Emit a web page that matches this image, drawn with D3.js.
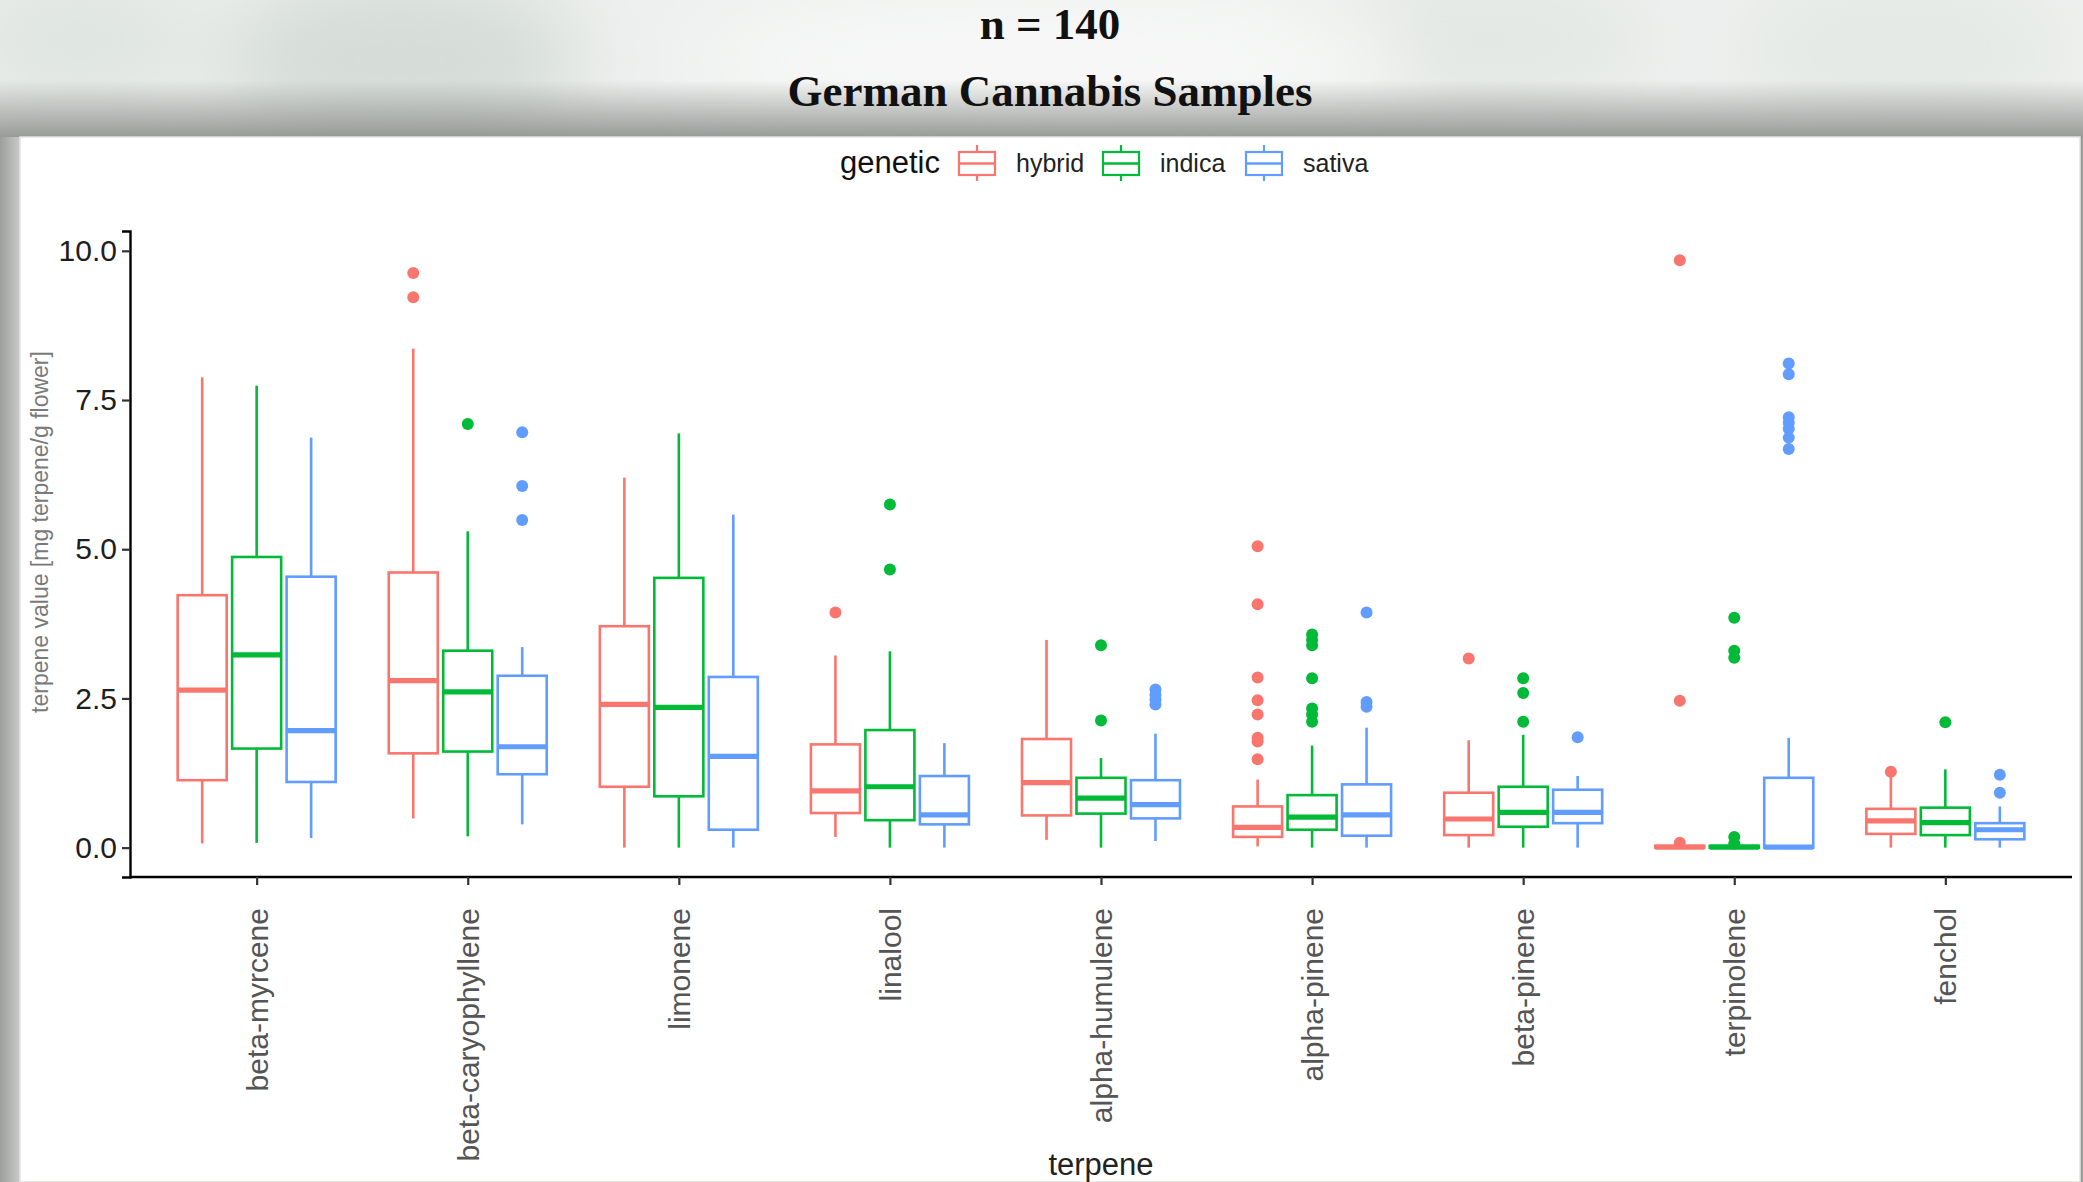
<!DOCTYPE html>
<html>
<head>
<meta charset="utf-8">
<script src="https://cdn.jsdelivr.net/npm/d3@7"></script>
<style>
  html, body { margin: 0; padding: 0; overflow: hidden; background: #edf0ee; }
  svg { display: block; }
</style>
</head>
<body>
<div id="chart"></div>
<script>
// ---- data ----
const terpenes = ['beta-myrcene', 'beta-caryophyllene', 'limonene', 'linalool', 'alpha-humulene',
                  'alpha-pinene', 'beta-pinene', 'terpinolene', 'fenchol'];
const genetics = ['hybrid', 'indica', 'sativa'];
const geneticColors = ['#F8766D', '#00BA38', '#619CFF'];

// [lower whisker, q1, median, q3, upper whisker] per terpene
const hybridBoxes = [
  [0.07, 1.13, 2.64, 4.23, 7.88],
  [0.49, 1.58, 2.80, 4.61, 8.36],
  [0.00, 1.02, 2.40, 3.71, 6.20],
  [0.18, 0.58, 0.95, 1.73, 3.22],
  [0.13, 0.54, 1.09, 1.82, 3.48],
  [0.02, 0.18, 0.34, 0.69, 1.14],
  [0.00, 0.21, 0.48, 0.92, 1.80],
  [0.00, 0.00, 0.01, 0.03, 0.05],
  [0.00, 0.23, 0.45, 0.65, 1.20]
];
const hybridOutliers = [
  [], [9.63, 9.22], [], [3.94], [],
  [5.05, 4.08, 2.85, 2.47, 2.23, 1.84, 1.78, 1.48],
  [3.17], [9.84, 2.46, 0.08], [1.27]
];

const indicaBoxes = [
  [0.08, 1.66, 3.23, 4.87, 7.74],
  [0.19, 1.61, 2.61, 3.30, 5.30],
  [0.00, 0.86, 2.35, 4.52, 6.94],
  [0.00, 0.46, 1.02, 1.97, 3.29],
  [0.00, 0.57, 0.83, 1.17, 1.50],
  [0.00, 0.30, 0.51, 0.88, 1.71],
  [0.00, 0.35, 0.59, 1.02, 1.89],
  [0.00, 0.00, 0.01, 0.03, 0.05],
  [0.00, 0.21, 0.42, 0.67, 1.31]
];
const indicaOutliers = [
  [], [7.10], [], [5.75, 4.66], [3.39, 2.13],
  [3.57, 3.48, 3.39, 2.84, 2.33, 2.23, 2.11],
  [2.84, 2.59, 2.11], [3.85, 3.30, 3.18, 0.18, 0.07], [2.10]
];

const sativaBoxes = [
  [0.16, 1.10, 1.96, 4.54, 6.87],
  [0.39, 1.23, 1.69, 2.88, 3.36],
  [0.00, 0.30, 1.53, 2.86, 5.58],
  [0.00, 0.39, 0.55, 1.20, 1.75],
  [0.11, 0.49, 0.72, 1.13, 1.91],
  [0.00, 0.20, 0.55, 1.06, 2.01],
  [0.00, 0.41, 0.59, 0.97, 1.20],
  [0.00, 0.00, 0.01, 1.17, 1.84],
  [0.00, 0.14, 0.30, 0.41, 0.69]
];
const sativaOutliers = [
  [], [6.96, 6.06, 5.49], [], [], [2.65, 2.56, 2.48, 2.40],
  [3.94, 2.44, 2.36], [1.85],
  [8.11, 7.93, 7.21, 7.12, 7.02, 6.87, 6.68], [1.22, 0.92]
];

const yTicks = [0, 2.5, 5, 7.5, 10];
const titleLines = ['n = 140', 'German Cannabis Samples'];
const xTitle = 'terpene';
const yTitle = 'terpene value [mg terpene/g flower]';
const legendTitle = 'genetic';

// ---- layout ----
const W = 2083, H = 1182;
const card = { x: 20, y: 137, right: 2080 };
const plot = { left: 130, right: 2072, top: 231, bottom: 877 };

const allBoxes = [hybridBoxes, indicaBoxes, sativaBoxes];
const allOutliers = [hybridOutliers, indicaOutliers, sativaOutliers];

const svg = d3.select('#chart').append('svg')
  .attr('width', W)
  .attr('height', H);

// ---- background (watercolour-ish paper + card shadow) ----
const defs = svg.append('defs');
defs.append('filter').attr('id', 'blur')
  .attr('x', '-50%').attr('y', '-50%').attr('width', '200%').attr('height', '200%')
  .append('feGaussianBlur').attr('stdDeviation', 40);

const shade = defs.append('linearGradient').attr('id', 'shade')
  .attr('x1', 0).attr('y1', 0).attr('x2', 0).attr('y2', 1);
shade.append('stop').attr('offset', '0%').attr('stop-color', '#8a8c8a').attr('stop-opacity', 0);
shade.append('stop').attr('offset', '100%').attr('stop-color', '#8a8c8a').attr('stop-opacity', 0.85);

const sideShade = defs.append('linearGradient').attr('id', 'sideShade')
  .attr('x1', 0).attr('y1', 0).attr('x2', 1).attr('y2', 0);
sideShade.append('stop').attr('offset', '0%').attr('stop-color', '#9c9e9c');
sideShade.append('stop').attr('offset', '100%').attr('stop-color', '#c9cac9');

svg.append('rect').attr('width', W).attr('height', H).attr('fill', '#edf0ee');

const patches = svg.append('g').attr('filter', 'url(#blur)');
patches.append('ellipse').attr('cx', 400).attr('cy', 60).attr('rx', 180).attr('ry', 90).attr('fill', '#d6ddd8');
patches.append('ellipse').attr('cx', 80).attr('cy', 40).attr('rx', 120).attr('ry', 70).attr('fill', '#dfe5e1');
patches.append('ellipse').attr('cx', 1450).attr('cy', 40).attr('rx', 200).attr('ry', 60).attr('fill', '#e2e7e3');
patches.append('ellipse').attr('cx', 1050).attr('cy', 60).attr('rx', 360).attr('ry', 70).attr('fill', '#f7f8f7');
patches.append('ellipse').attr('cx', 1900).attr('cy', 50).attr('rx', 160).attr('ry', 70).attr('fill', '#e4e9e5');

svg.append('rect').attr('x', 0).attr('y', 80).attr('width', W).attr('height', card.y - 80)
  .attr('fill', 'url(#shade)');
svg.append('rect').attr('x', 0).attr('y', card.y).attr('width', card.x).attr('height', H - card.y)
  .attr('fill', 'url(#sideShade)');
svg.append('rect').attr('x', card.right).attr('y', card.y).attr('width', W - card.right).attr('height', H - card.y)
  .attr('fill', '#9a9c9a');

svg.append('rect')
  .attr('x', card.x).attr('y', card.y)
  .attr('width', card.right - card.x).attr('height', H - card.y)
  .attr('fill', '#ffffff')
  .attr('stroke', '#e2e4e2')
  .attr('stroke-width', 1.5);

// ---- titles ----
svg.append('g').selectAll('text')
  .data(titleLines)
  .join('text')
    .attr('x', 1050)
    .attr('y', (d, i) => i === 0 ? 39 : 106)
    .attr('text-anchor', 'middle')
    .style('font-family', '"Liberation Serif", "Times New Roman", serif')
    .style('font-weight', 'bold')
    .style('font-size', '45px')
    .style('fill', '#111')
    .text(d => d);

// ---- scales ----
const allValues = d3.merge(allBoxes.map(b => d3.merge(b))).concat(d3.merge(allOutliers.map(o => d3.merge(o))));
const lo = d3.min(allValues), hi = d3.max(allValues);
const pad = (hi - lo) * 0.05;

const yScale = d3.scaleLinear()
  .domain([lo - pad, hi + pad])
  .range([plot.bottom, plot.top]);

const xScale = d3.scalePoint()
  .domain(terpenes)
  .range([plot.left, plot.right])
  .padding(0.6);

const step = xScale.step();
const dodge = d3.scaleBand().domain(genetics).range([-0.4 * step, 0.4 * step]).padding(0.1);
const boxW = dodge.bandwidth();

// ---- boxes ----
const boxData = [];
genetics.forEach((g, gi) => {
  terpenes.forEach((t, ti) => {
    const [low, q1, med, q3, high] = allBoxes[gi][ti];
    boxData.push({ g, t, color: geneticColors[gi], low, q1, med, q3, high, out: allOutliers[gi][ti] });
  });
});

const groups = svg.append('g').selectAll('g')
  .data(boxData)
  .join('g')
    .attr('transform', d => `translate(${xScale(d.t) + dodge(d.g) + boxW / 2},0)`);

groups.append('line')
  .attr('y1', d => yScale(d.high)).attr('y2', d => yScale(d.q3))
  .attr('stroke', d => d.color).attr('stroke-width', 2.6);
groups.append('line')
  .attr('y1', d => yScale(d.q1)).attr('y2', d => yScale(d.low))
  .attr('stroke', d => d.color).attr('stroke-width', 2.6);
groups.append('rect')
  .attr('x', -boxW / 2)
  .attr('width', boxW)
  .attr('y', d => yScale(d.q3))
  .attr('height', d => Math.max(0, yScale(d.q1) - yScale(d.q3)))
  .attr('fill', '#fff')
  .attr('stroke', d => d.color)
  .attr('stroke-width', 2.6);
groups.append('line')
  .attr('x1', -boxW / 2).attr('x2', boxW / 2)
  .attr('y1', d => yScale(d.med)).attr('y2', d => yScale(d.med))
  .attr('stroke', d => d.color).attr('stroke-width', 5.2);
groups.selectAll('circle')
  .data(d => d.out.map(v => ({ v, color: d.color })))
  .join('circle')
    .attr('cx', 0)
    .attr('cy', d => yScale(d.v))
    .attr('r', 6)
    .attr('fill', d => d.color);

// ---- axes ----
const yAxis = svg.append('g')
  .attr('transform', `translate(${plot.left},0)`)
  .call(d3.axisLeft(yScale).tickValues(yTicks).tickFormat(d3.format('.1f')).tickSize(8).tickPadding(5));
yAxis.select('.domain').attr('stroke', '#000').attr('stroke-width', 2.4);
yAxis.selectAll('.tick line').attr('stroke', '#333').attr('stroke-width', 2.2);
yAxis.selectAll('.tick text')
  .style('font-family', '"Liberation Sans", Arial, sans-serif')
  .style('font-size', '30px')
  .style('fill', '#1e1e1e');

const xAxis = svg.append('g')
  .attr('transform', `translate(0,${plot.bottom})`)
  .call(d3.axisBottom(xScale).tickSize(8).tickSizeOuter(0));
xAxis.select('.domain')
  .attr('d', `M${plot.left},0H${plot.right}`)
  .attr('stroke', '#000').attr('stroke-width', 2.4);
xAxis.selectAll('.tick line').attr('stroke', '#333').attr('stroke-width', 2.2);
xAxis.selectAll('.tick text')
  .attr('transform', 'rotate(-90)')
  .attr('x', -31)
  .attr('y', 0)
  .attr('dy', '0.35em')
  .style('text-anchor', 'end')
  .style('font-family', '"Liberation Sans", Arial, sans-serif')
  .style('font-size', '30px')
  .style('fill', '#555');

// axis titles
svg.append('text')
  .attr('x', (plot.left + plot.right) / 2)
  .attr('y', 1175)
  .attr('text-anchor', 'middle')
  .style('font-family', '"Liberation Sans", Arial, sans-serif')
  .style('font-size', '31px')
  .style('fill', '#222')
  .text(xTitle);

svg.append('text')
  .attr('transform', `translate(48,532) rotate(-90)`)
  .attr('text-anchor', 'middle')
  .style('font-family', '"Liberation Sans", Arial, sans-serif')
  .style('font-size', '23px')
  .style('fill', '#7a7a7a')
  .text(yTitle);

// ---- legend ----
const legend = svg.append('g');
legend.append('text')
  .attr('x', 840).attr('y', 173)
  .style('font-family', '"Liberation Sans", Arial, sans-serif')
  .style('font-size', '31px')
  .style('fill', '#111')
  .text(legendTitle);

const keyX = [959, 1103, 1246];
const keys = legend.selectAll('g.key')
  .data(genetics)
  .join('g')
    .attr('class', 'key')
    .attr('transform', (d, i) => `translate(${keyX[i]},0)`);
keys.append('line')
  .attr('x1', 18).attr('x2', 18).attr('y1', 145).attr('y2', 181)
  .attr('stroke', (d, i) => geneticColors[i]).attr('stroke-width', 2.2);
keys.append('rect')
  .attr('x', 0).attr('y', 152).attr('width', 36).attr('height', 23)
  .attr('fill', '#fff')
  .attr('stroke', (d, i) => geneticColors[i]).attr('stroke-width', 2.2);
keys.append('line')
  .attr('x1', 0).attr('x2', 36).attr('y1', 163.5).attr('y2', 163.5)
  .attr('stroke', (d, i) => geneticColors[i]).attr('stroke-width', 2.6);
keys.append('text')
  .attr('x', 57).attr('y', 172)
  .style('font-family', '"Liberation Sans", Arial, sans-serif')
  .style('font-size', '25px')
  .style('fill', '#222')
  .text(d => d);
</script>
</body>
</html>
